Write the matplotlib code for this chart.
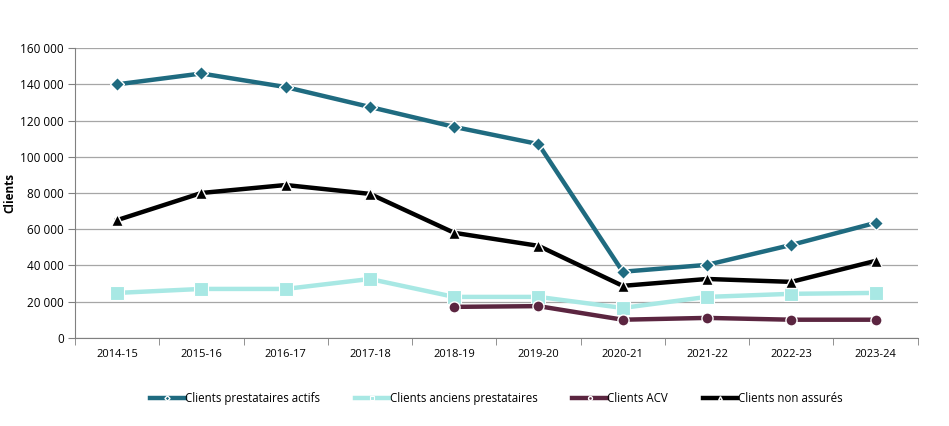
import matplotlib
matplotlib.use("Agg")
import matplotlib.pyplot as plt
from matplotlib.ticker import FuncFormatter, FixedLocator

plt.rcParams['font.family'] = ['Open Sans', 'DejaVu Sans']

# Data
years = ['2014-15', '2015-16', '2016-17', '2017-18', '2018-19',
         '2019-20', '2020-21', '2021-22', '2022-23', '2023-24']
actifs = [140000, 146000, 138500, 127500, 116500, 107000, 36500, 40300, 51300, 63500]
anciens = [24800, 27000, 27000, 32500, 22600, 22600, 16500, 22600, 24300, 24800]
acv = [None, None, None, None, 17100, 17500, 10000, 11000, 10000, 10000]
non_assures = [65000, 80000, 84400, 79500, 58000, 50800, 28700, 32500, 30900, 42500]

fig = plt.figure(figsize=(9.49, 4.26), dpi=100)
ax = fig.add_axes([0.079, 0.207, 0.888, 0.68])

x = list(range(len(years)))
x_acv = [i for i, v in zip(x, acv) if v is not None]
v_acv = [v for v in acv if v is not None]

lw = 3.2
ax.plot(x, actifs, color='#1f6b80', lw=lw, marker='D', ms=7.5,
        mec='white', mew=1, label='Clients prestataires actifs', zorder=4)
ax.plot(x, anciens, color='#a8e8e4', lw=lw, marker='s', ms=10,
        mec='white', mew=0.8, label='Clients anciens prestataires', zorder=3)
ax.plot(x_acv, v_acv, color='#5b2540', lw=lw, marker='o', ms=8,
        mec='white', mew=1, label='Clients ACV', zorder=3)
ax.plot(x, non_assures, color='black', lw=lw, marker='^', ms=8,
        mec='white', mew=1, label='Clients non assurés', zorder=3)

ax.set_xlim(-0.5, len(years) - 0.5)
ax.set_ylim(0, 160000)
ax.set_xticks(x)
ax.set_xticklabels(years, fontsize=8)
ax.xaxis.set_minor_locator(FixedLocator([i - 0.5 for i in range(len(years) + 1)]))
ax.tick_params(axis='x', which='major', length=0, pad=8)
ax.tick_params(axis='x', which='minor', length=5, color='#808080', direction='out')
ax.set_yticks(range(0, 160001, 20000))
ax.yaxis.set_major_formatter(FuncFormatter(lambda v, p: f"{int(v):,}".replace(',', ' ')))
ax.tick_params(axis='y', labelsize=8.5, length=5, color='#808080', pad=3)
ax.grid(axis='y', color='#a6a6a6', lw=0.9)
ax.set_axisbelow(True)
for s in ['top', 'right']:
    ax.spines[s].set_visible(False)
ax.spines['left'].set_color('#808080')
ax.spines['bottom'].set_color('#808080')
ax.set_ylabel('Clients', fontsize=8.5, fontweight='bold', labelpad=3)

ax.legend(loc='upper center', bbox_to_anchor=(0.5, -0.15), ncol=4, frameon=False,
          fontsize=8.3, markerscale=0.35, handlelength=3.0, handletextpad=0.05,
          columnspacing=3.0)

fig.savefig('out.png', dpi=100)
